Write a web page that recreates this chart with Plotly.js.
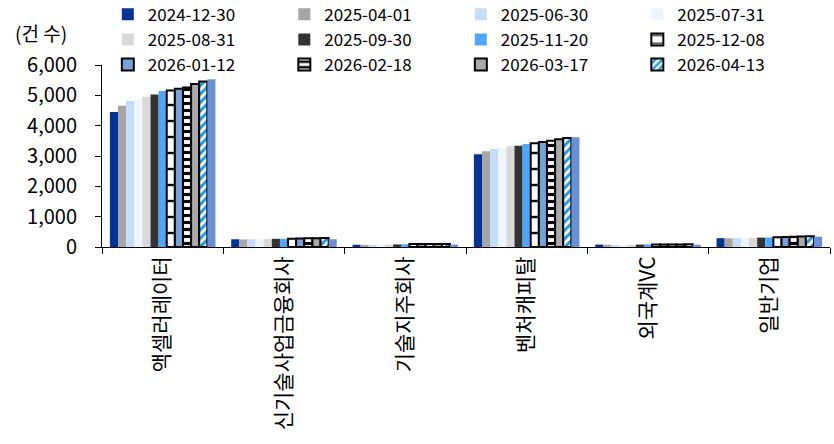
<!DOCTYPE html>
<html>
<head>
<meta charset="utf-8">
<script src="https://cdn.plot.ly/plotly-3.0.1.min.js"></script>
<style>html,body{margin:0;padding:0;background:#fff;}#chart{width:834px;height:444px;}</style>
</head>
<body>
<div id="chart"></div>
<script>
const categories = ['액셀러레이터','신기술사업금융회사','기술지주회사','벤처캐피탈','외국계VC','일반기업'];
const seriesNames = ['2024-12-30','2025-04-01','2025-06-30','2025-07-31','2025-08-31','2025-09-30','2025-11-20','2025-12-08','2026-01-12','2026-02-18','2026-03-17','2026-04-13','기타'];
const s2024_12_30 = [4450, 255, 75, 3060, 80, 290];
const s2025_04_01 = [4660, 250, 70, 3155, 75, 285];
const s2025_06_30 = [4810, 255, 70, 3230, 70, 290];
const s2025_07_31 = [4870, 255, 70, 3275, 70, 295];
const s2025_08_31 = [4950, 260, 75, 3320, 70, 300];
const s2025_09_30 = [5030, 270, 85, 3340, 80, 310];
const s2025_11_20 = [5140, 270, 90, 3395, 85, 315];
const s2025_12_08 = [5160, 275, 95, 3420, 85, 320];
const s2026_01_12 = [5220, 280, 95, 3465, 85, 330];
const s2026_02_18 = [5255, 285, 100, 3500, 85, 335];
const s2026_03_17 = [5375, 290, 100, 3550, 85, 345];
const s2026_04_13 = [5460, 295, 100, 3595, 90, 355];
const sExtra = [5530, 255, 80, 3615, 75, 340];
const yTicks = [0, 1000, 2000, 3000, 4000, 5000, 6000];
const yTickText = ['0','1,000','2,000','3,000','4,000','5,000','6,000'];

const values = [s2024_12_30,s2025_04_01,s2025_06_30,s2025_07_31,s2025_08_31,s2025_09_30,s2025_11_20,s2025_12_08,s2026_01_12,s2026_02_18,s2026_03_17,s2026_04_13,sExtra];

const styles = [
  {color:'#003399'},
  {color:'#A6A6A6'},
  {color:'#C5DDF8'},
  {color:'#EEF5FD'},
  {color:'#D9D9D9'},
  {color:'#333333'},
  {color:'#4DA6FF'},
  {color:'#FFFFFF', line:{color:'#000',width:2}, pattern:{shape:'-', fgcolor:'#000', bgcolor:'#FFFFFF', size:16, solidity:0.15}},
  {color:'#74A2DA', line:{color:'#000',width:2}},
  {color:'#000000', line:{color:'#000',width:2}, pattern:{shape:'-', fgcolor:'#000', bgcolor:'#FFFFFF', size:7, solidity:0.45}},
  {color:'#AAAAAA', line:{color:'#000',width:2}},
  {color:'#FFFFFF', line:{color:'#000',width:2}, pattern:{shape:'/', fgcolor:'#1A9BE0', bgcolor:'#FFFFFF', size:6, solidity:0.5}},
  {color:'#6B8FD6'}
];

const traces = values.map((v,i)=>{
  const st = styles[i];
  const marker = {color: st.color, line: st.line || {width:0}};
  if (st.pattern) marker.pattern = st.pattern;
  return {type:'bar', x:categories, y:v, name:seriesNames[i], marker:marker, showlegend: i<12};
});

const font = 'Noto Sans CJK KR, Noto Sans, sans-serif';
const layout = {
  width:834, height:444,
  margin:{l:102, r:4, t:65, b:197, autoexpand:false},
  paper_bgcolor:'#fff', plot_bgcolor:'#fff',
  barmode:'group', bargap:0.13, bargroupgap:0,
  font:{family:font, color:'#000', size:18},
  xaxis:{type:'category', range:[-0.5,5.5], showline:true, linecolor:'#000', linewidth:1,
    ticks:'outside', tickson:'boundaries', ticklen:6, tickcolor:'#000',
    tickangle:-90, tickfont:{size:21, family:font}, showgrid:false, zeroline:false},
  yaxis:{range:[0,6000], tickvals:yTicks, ticktext:yTickText, showline:true, linecolor:'#000', linewidth:1,
    ticks:'outside', ticklen:6, tickcolor:'#000', showgrid:false, zeroline:false,
    tickfont:{size:20, family:font}, ticklabelstandoff:14},
  legend:{orientation:'h', x:0.008, xanchor:'left', y:1.375, yanchor:'top', entrywidth:131.5, entrywidthmode:'pixels',
    font:{size:17, family:font}, bgcolor:'rgba(0,0,0,0)', traceorder:'normal', itemwidth:30},
  annotations:[{text:'(건 수)', xref:'paper', yref:'paper', x:-0.084, y:1.176, xanchor:'center', yanchor:'middle', showarrow:false, font:{size:19, family:font}}]
};
Plotly.newPlot('chart', traces, layout, {displayModeBar:false});
</script>
</body>
</html>
